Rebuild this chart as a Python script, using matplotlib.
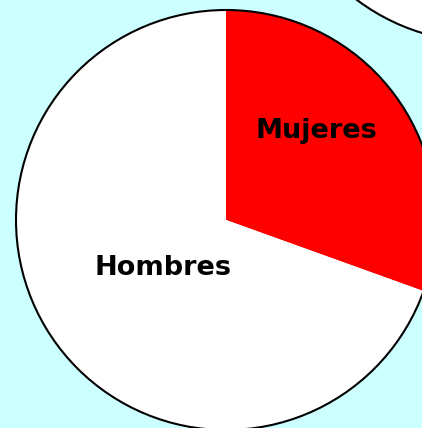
import matplotlib
matplotlib.use("Agg")
import matplotlib.pyplot as plt
from matplotlib.patches import Circle

# datos
categorias = ["Mujeres", "Hombres"]
valores = [30.5, 69.5]
colores = ["#FF0000", "#FFFFFF"]

W, H = 422, 428
fig = plt.figure(figsize=(W / 100, H / 100), dpi=100)
fig.patch.set_facecolor("#CCFFFF")
ax = fig.add_axes([0, 0, 1, 1])
ax.set_facecolor("#CCFFFF")

centro = (226, H - 220)
radio = 210

# segundo circulo (recortado arriba a la derecha)
ax.add_patch(Circle((483, H + 168), radio, facecolor="white",
                    edgecolor="black", linewidth=1.5))

wedges, _ = ax.pie(valores, colors=colores, startangle=90, counterclock=False,
                   center=centro, radius=radio, frame=True,
                   wedgeprops=dict(linewidth=0))
ax.add_patch(Circle(centro, radio, facecolor="none", edgecolor="black",
                    linewidth=1.5))
ax.set_xlim(0, W)
ax.set_ylim(0, H)
ax.set_aspect("equal")
ax.axis("off")

pos_etiquetas = [(316, H - 131), (163, H - 268)]
for txt, (x, y) in zip(categorias, pos_etiquetas):
    ax.text(x, y, txt, ha="center", va="center", fontsize=19.5,
            fontweight="bold", family="DejaVu Sans", color="black")

fig.savefig("out.png", dpi=100, facecolor=fig.get_facecolor())
